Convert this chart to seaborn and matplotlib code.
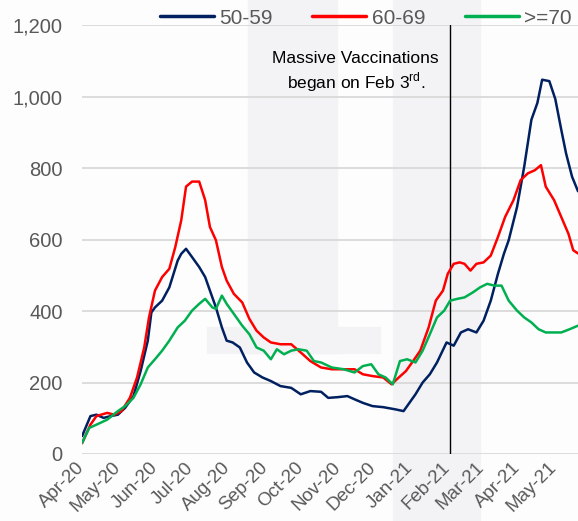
import pandas as pd
import matplotlib
matplotlib.use("Agg")
import matplotlib.pyplot as plt
import matplotlib.dates as mdates
from matplotlib.patches import Rectangle
from matplotlib.ticker import FuncFormatter
import seaborn as sns

# Datos (dias desde 1-abr-2020, casos diarios)
start = pd.Timestamp("2020-04-01")
groups = ["50-59", "60-69", ">=70"]
colors = ["#002060", "#FF0000", "#00B050"]

days_5059 = [0, 7, 12, 18, 24, 30, 36, 43, 49, 55, 58, 61, 67, 73, 80, 83, 87, 92, 98, 103,
             107, 112, 117, 121, 126, 132, 138, 144, 151, 158, 166, 175, 183, 191, 200, 206,
             214, 222, 228, 235, 243, 252, 262, 269, 272, 279, 285, 291, 297, 305, 311, 317,
             323, 330, 336, 342, 348, 353, 357, 364, 370, 376, 381, 385, 391, 396, 401, 405,
             410, 415]
vals_5059 = [50, 106, 110, 101, 106, 110, 129, 162, 232, 317, 396, 410, 429, 466, 541, 560,
             574, 551, 523, 495, 457, 410, 354, 317, 312, 298, 256, 228, 214, 204, 190, 185,
             167, 176, 174, 157, 159, 162, 153, 143, 134, 131, 125, 120, 134, 167, 200, 223,
             256, 312, 303, 340, 349, 340, 373, 429, 504, 560, 598, 691, 804, 935, 982, 1047,
             1043, 993, 907, 841, 776, 735]

days_6069 = [0, 7, 12, 21, 27, 33, 40, 46, 52, 56, 61, 67, 73, 78, 83, 87, 92, 98, 103, 107,
             112, 117, 121, 127, 134, 140, 146, 152, 158, 166, 175, 183, 191, 200, 209, 219,
             228, 235, 243, 252, 259, 265, 271, 277, 283, 290, 296, 302, 306, 311, 316, 320,
             325, 330, 336, 342, 348, 354, 361, 367, 373, 379, 384, 388, 395, 401, 407, 411,
             415]
vals_6069 = [30, 82, 106, 115, 110, 120, 157, 214, 298, 382, 457, 495, 518, 579, 654, 748,
             762, 762, 710, 635, 598, 523, 485, 448, 424, 378, 345, 326, 312, 307, 307, 284,
             260, 242, 237, 237, 237, 223, 218, 214, 195, 214, 232, 260, 289, 354, 429, 457,
             504, 532, 536, 532, 513, 532, 536, 555, 607, 663, 710, 766, 785, 794, 808, 748,
             710, 663, 616, 570, 561]

days_70 = [0, 6, 12, 21, 30, 36, 43, 49, 55, 61, 67, 73, 80, 86, 92, 98, 103, 109, 112, 117,
           121, 127, 134, 140, 146, 152, 158, 163, 169, 175, 181, 188, 194, 200, 209, 219,
           228, 235, 242, 248, 254, 260, 266, 272, 279, 285, 291, 297, 303, 308, 314, 320,
           327, 333, 339, 345, 351, 357, 364, 370, 376, 382, 388, 395, 401, 408, 415]
vals_70 = [31, 73, 82, 96, 120, 134, 157, 195, 242, 265, 289, 317, 354, 373, 401, 420, 434,
           410, 406, 443, 420, 392, 359, 335, 298, 289, 265, 293, 279, 289, 293, 289, 260,
           256, 242, 237, 228, 246, 251, 223, 214, 195, 260, 265, 256, 289, 335, 382, 401,
           429, 434, 438, 452, 466, 476, 471, 471, 429, 401, 382, 368, 349, 340, 340, 340,
           349, 359]

vacc_day = pd.Timestamp("2021-02-03")
note_text = "Massive Vaccinations\nbegan on Feb 3$^{\\mathrm{rd}}$."

frames = []
for g, d, v in [(groups[0], days_5059, vals_5059),
                (groups[1], days_6069, vals_6069),
                (groups[2], days_70, vals_70)]:
    frames.append(pd.DataFrame({"fecha": start + pd.to_timedelta(d, unit="D"),
                                "casos": v, "grupo": g}))
df = pd.concat(frames, ignore_index=True)

sns.set_theme(style="white")
plt.rcParams["font.family"] = ["Liberation Sans", "DejaVu Sans"]
plt.rcParams["mathtext.fontset"] = "custom"
plt.rcParams["mathtext.rm"] = "Liberation Sans"

fig = plt.figure(figsize=(5.78, 5.21), dpi=100)
fig.patch.set_facecolor("#FDFDFE")

# marca de agua tenue de fondo (detras de los ejes)
for (x0, y0, w, h) in [(248, 168, 89, 353), (393, 0, 87, 521), (207, 168, 173, 26)]:
    r = Rectangle((x0 / 578, y0 / 521), w / 578, h / 521,
                  transform=fig.transFigure, color="#F3F3F6", zorder=-10)
    fig.patches.append(r)

ax = fig.add_axes([0.142, 0.1286, 0.858, 0.8234])
ax.set_facecolor("none")
ax.set_zorder(1)

sns.lineplot(data=df, x="fecha", y="casos", hue="grupo", hue_order=groups,
             palette=colors, linewidth=1.8, ax=ax)

ax.axvline(vacc_day, color="black", linewidth=1, zorder=1)
ax.text(start + pd.Timedelta(days=229), 1068, note_text, ha="center", va="center",
        fontsize=12.5, color="black", linespacing=1.25)

ax.set_ylim(0, 1200)
ax.set_xlim(start, start + pd.Timedelta(days=415))
ax.set_yticks(range(0, 1201, 200))
ax.yaxis.set_major_formatter(FuncFormatter(lambda v, p: f"{int(v):,}"))
ax.grid(axis="y", color="#D9D9D9", linewidth=1.3)
ax.grid(axis="x", visible=False)
ax.set_axisbelow(True)
for s in ax.spines.values():
    s.set_visible(False)

ax.xaxis.set_major_locator(mdates.MonthLocator())
ax.xaxis.set_major_formatter(mdates.DateFormatter("%b-%y"))
ax.tick_params(axis="y", length=0, pad=14, labelsize=14.5, labelcolor="#595959")
ax.tick_params(axis="x", length=0, pad=8, labelsize=13.5, labelcolor="#595959")
for lbl in ax.get_xticklabels():
    lbl.set_rotation(45)
    lbl.set_ha("right")
    lbl.set_va("center")
    lbl.set_rotation_mode("anchor")
ax.set_xlabel("")
ax.set_ylabel("")

sns.move_legend(ax, "center", bbox_to_anchor=(0.572, 1.016), ncol=3, frameon=False,
                title=None, fontsize=15, handlelength=2.6, handletextpad=0.25,
                columnspacing=1.9, labelcolor="#595959")
for line in ax.get_legend().get_lines():
    line.set_linewidth(2.5)

fig.savefig("out.png", dpi=100, facecolor=fig.get_facecolor())
